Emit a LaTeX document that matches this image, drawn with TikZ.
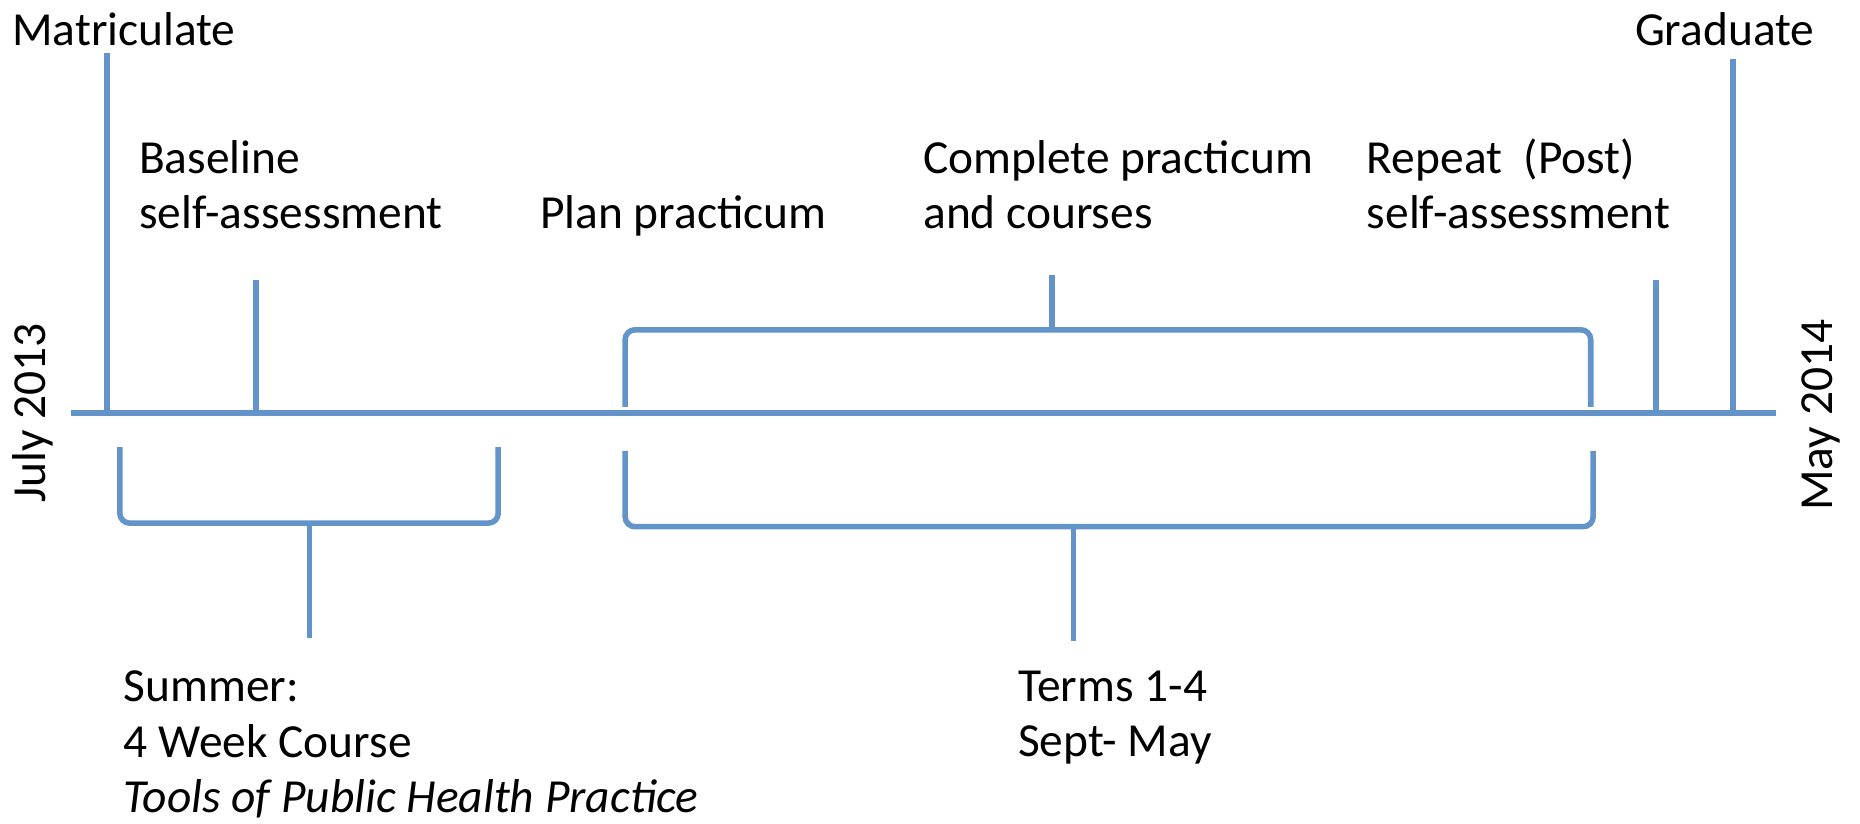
\documentclass[tikz,border=0pt]{standalone}
\usepackage{fontspec}
\setmainfont{Carlito}
\definecolor{tlblue}{RGB}{98,148,202}
\newcommand{\setupline}{
    \coordinate (a0) at (60,348);
    \coordinate (a1) at (1497,348);

    \coordinate (m0) at (90,348);
    \coordinate (m1) at (90,45);
    \coordinate (b0) at (216,348);
    \coordinate (b1) at (216,236);
    \coordinate (r0) at (1396,348);
    \coordinate (r1) at (1396,236);
    \coordinate (g0) at (1461,350);
    \coordinate (g1) at (1461,50);
}
\tikzset{
    tl/.style={line width=2.8pt,tlblue},
    lbl/.style={font=\fontsize{24}{28}\selectfont,anchor=base west,align=left,inner sep=0pt},
    side/.style={font=\fontsize{24}{28}\selectfont,rotate=90,inner sep=0pt}
}
\begin{document}
\begin{tikzpicture}[x=0.6pt,y=-0.6pt]
          \useasboundingbox (0,0) rectangle (1568,694);
          \setupline;

          \draw[tl] (a0) -- (a1); % time axis
          \draw[tl] (m0) -- (m1);
          \draw[tl] (b0) -- (b1);
          \draw[tl] (r0) -- (r1);
          \draw[tl] (g0) -- (g1);

          % brackets
          \draw[tl,rounded corners=5pt] (527,343) -- (527,278) -- (1341,278) -- (1341,343);
          \draw[tl] (887,278) -- (887,232);
          \draw[tl,rounded corners=5pt] (101,377) -- (101,441) -- (420,441) -- (420,377);
          \draw[tl] (261,441) -- (261,538);
          \draw[tl,rounded corners=5pt] (527,380) -- (527,444) -- (1343,444) -- (1343,380);
          \draw[tl] (905,444) -- (905,540);

          \node[lbl] (matric) at (10,38) {Matriculate};
          \node[lbl] (grad) at (1378,38) {Graduate};
          \node[lbl] (baseline) at (117,193) {Baseline\\self-assessment};
          \node[lbl] (plan) at (455,193) {Plan practicum};
          \node[lbl] (complete) at (778,193) {Complete practicum\\and courses};
          \node[lbl] (repeat) at (1152,193) {Repeat~ (Post)\\self-assessment};
          \node[lbl] (summer) at (104,685) {Summer:\\4 Week Course\\\textit{Tools of Public Health Practice}};
          \node[lbl] (terms) at (858,638) {Terms 1-4\\Sept- May};
          \node[side] (start) at (28,348) {July 2013};
          \node[side] (finish) at (1535,350) {May 2014};
\end{tikzpicture}
\end{document}
